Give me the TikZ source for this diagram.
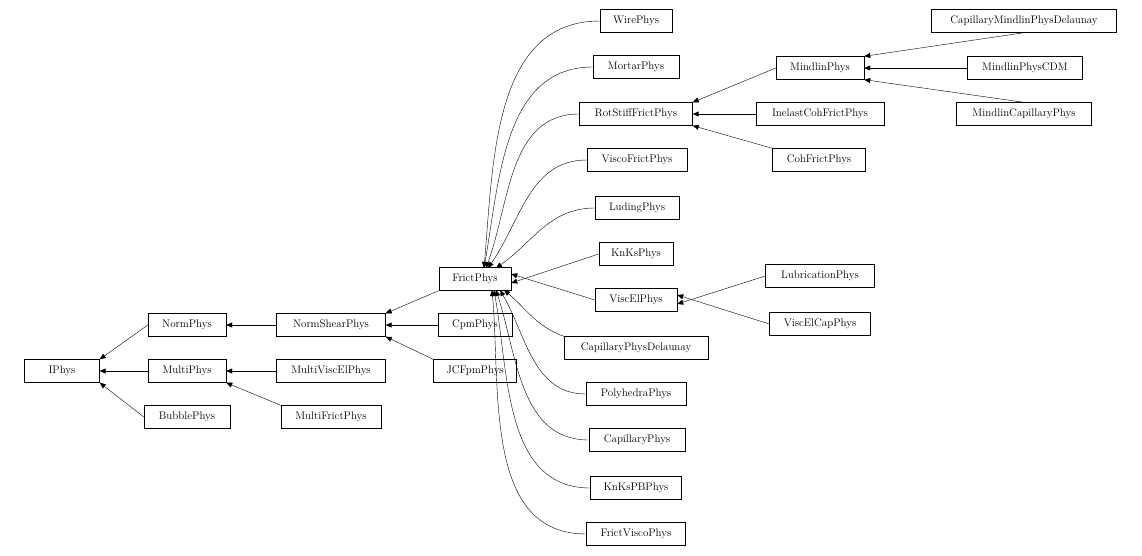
\documentclass[tikz,border=0pt]{standalone}
\usetikzlibrary{arrows.meta}
\begin{document}
\begin{tikzpicture}[x=1pt,y=-1pt,
  cls/.style={draw,thin,minimum height=23pt,inner sep=0pt,font=\fontsize{11}{13}\selectfont},
  inh/.style={thin,-{Triangle[length=6pt,width=5pt]}}]
	\useasboundingbox (0,0) rectangle (1142,556);
	% base classes
	\node[cls,minimum width=75pt] (IPhys) at (62,371) {IPhys};
	\node[cls,minimum width=78pt] (NormPhys) at (187,325) {NormPhys};
	\node[cls,minimum width=78pt] (MultiPhys) at (187,371) {MultiPhys};
	\node[cls,minimum width=86pt] (BubblePhys) at (187,417) {BubblePhys};
	\node[cls,minimum width=109pt] (NormShearPhys) at (331,325) {NormShearPhys};
	\node[cls,minimum width=109pt] (MultiViscElPhys) at (331,371) {MultiViscElPhys};
	\node[cls,minimum width=100pt] (MultiFrictPhys) at (331,417) {MultiFrictPhys};
	\node[cls,minimum width=72pt] (FrictPhys) at (475,279) {FrictPhys};
	\node[cls,minimum width=74pt] (CpmPhys) at (475,325) {CpmPhys};
	\node[cls,minimum width=83pt] (JCFpmPhys) at (475,371) {JCFpmPhys};
	% frictional children
	\node[cls,minimum width=72pt] (WirePhys) at (636,21) {WirePhys};
	\node[cls,minimum width=86pt] (MortarPhys) at (636,67) {MortarPhys};
	\node[cls,minimum width=113pt] (RotStiffFrictPhys) at (636,114) {RotStiffFrictPhys};
	\node[cls,minimum width=100pt] (ViscoFrictPhys) at (637,160) {ViscoFrictPhys};
	\node[cls,minimum width=84pt] (LudingPhys) at (637,208) {LudingPhys};
	\node[cls,minimum width=74pt] (KnKsPhys) at (636,254) {KnKsPhys};
	\node[cls,minimum width=82pt] (ViscElPhys) at (636,300) {ViscElPhys};
	\node[cls,minimum width=144pt] (CapillaryPhysDelaunay) at (636,348) {CapillaryPhysDelaunay};
	\node[cls,minimum width=100pt] (PolyhedraPhys) at (636,394) {PolyhedraPhys};
	\node[cls,minimum width=96pt] (CapillaryPhys) at (637,440) {CapillaryPhys};
	\node[cls,minimum width=91pt] (KnKsPBPhys) at (636,488) {KnKsPBPhys};
	\node[cls,minimum width=99pt] (FrictViscoPhys) at (636,534) {FrictViscoPhys};
	\node[cls,minimum width=88pt] (MindlinPhys) at (820,68) {MindlinPhys};
	\node[cls,minimum width=128pt] (InelastCohFrictPhys) at (820,114) {InelastCohFrictPhys};
	\node[cls,minimum width=93pt] (CohFrictPhys) at (819,160) {CohFrictPhys};
	\node[cls,minimum width=109pt] (LubricationPhys) at (820,276) {LubricationPhys};
	\node[cls,minimum width=101pt] (ViscElCapPhys) at (820,324) {ViscElCapPhys};
	\node[cls,minimum width=185pt] (CapillaryMindlinPhysDelaunay) at (1024,21) {CapillaryMindlinPhysDelaunay};
	\node[cls,minimum width=115pt] (MindlinPhysCDM) at (1025,68) {MindlinPhysCDM};
	\node[cls,minimum width=135pt] (MindlinCapillaryPhys) at (1024,114) {MindlinCapillaryPhys};
	% anchors on FrictPhys
	\coordinate (fTop) at (484,268);
	\coordinate (fBot) at (492,290);
	% inheritance
	\draw[inh] (NormPhys.west) -- (IPhys.north east);
	\draw[inh] (MultiPhys) -- (IPhys);
	\draw[inh] (BubblePhys.west) -- (IPhys.south east);
	\draw[inh] (NormShearPhys) -- (NormPhys);
	\draw[inh] (MultiViscElPhys) -- (MultiPhys);
	\draw[inh] (MultiFrictPhys.north west) -- (MultiPhys.south east);
	\draw[inh] (FrictPhys.south west) -- (NormShearPhys.north east);
	\draw[inh] (CpmPhys) -- (NormShearPhys);
	\draw[inh] (JCFpmPhys.north west) -- (NormShearPhys.south east);
	\draw[inh] (WirePhys.west) to[out=180,in=85] (fTop);
	\draw[inh] (MortarPhys.west) to[out=180,in=80] (fTop);
	\draw[inh] (RotStiffFrictPhys.west) to[out=180,in=70] ([xshift=2pt]fTop);
	\draw[inh] (ViscoFrictPhys.west) to[out=180,in=55] ([xshift=4pt]fTop);
	\draw[inh] (LudingPhys.west) to[out=180,in=35] ([xshift=12pt]fTop);
	\draw[inh] (KnKsPhys.west) -- ([yshift=-4pt]FrictPhys.east);
	\draw[inh] (ViscElPhys.west) -- ([yshift=5pt]FrictPhys.east);
	\draw[inh] (CapillaryPhysDelaunay.north west) to[out=160,in=-40] ([xshift=12pt]fBot);
	\draw[inh] (PolyhedraPhys.west) to[out=180,in=-60] ([xshift=8pt]fBot);
	\draw[inh] (CapillaryPhys.west) to[out=180,in=-72] ([xshift=4pt]fBot);
	\draw[inh] (KnKsPBPhys.west) to[out=180,in=-80] ([xshift=2pt]fBot);
	\draw[inh] (FrictViscoPhys.west) to[out=180,in=-85] (fBot);
	\draw[inh] (MindlinPhys.west) -- (RotStiffFrictPhys.north east);
	\draw[inh] (InelastCohFrictPhys) -- (RotStiffFrictPhys);
	\draw[inh] (CohFrictPhys.north west) -- (RotStiffFrictPhys.south east);
	\draw[inh] (LubricationPhys.west) -- ([yshift=-4pt]ViscElPhys.east);
	\draw[inh] (ViscElCapPhys.west) -- ([yshift=5pt]ViscElPhys.east);
	\draw[inh] (CapillaryMindlinPhysDelaunay.south) -- (MindlinPhys.north east);
	\draw[inh] (MindlinPhysCDM) -- (MindlinPhys);
	\draw[inh] (MindlinCapillaryPhys.north) -- (MindlinPhys.south east);
\end{tikzpicture}
\end{document}
